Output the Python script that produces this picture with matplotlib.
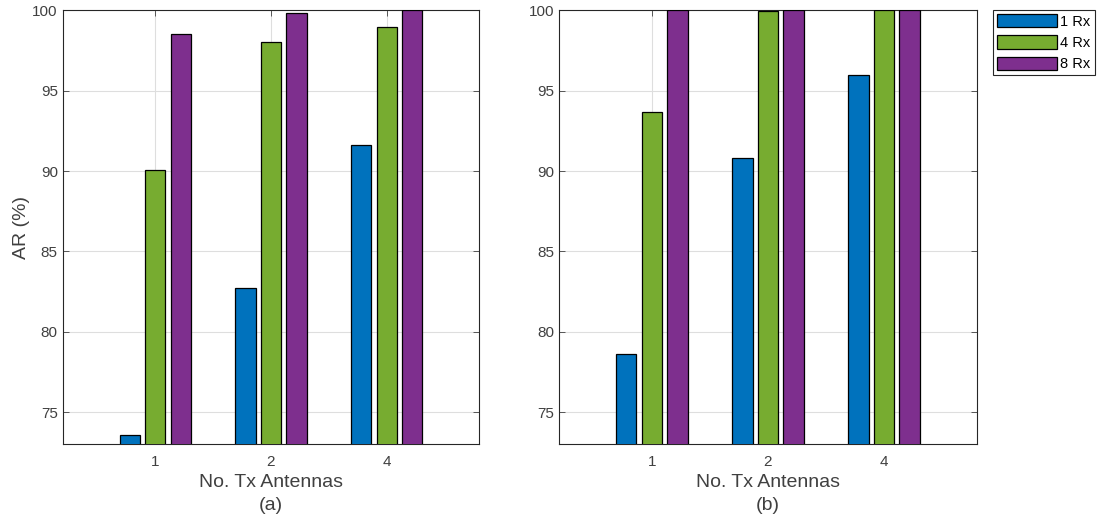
import numpy as np
import matplotlib.pyplot as plt

plt.rcParams['font.family'] = ['Liberation Sans', 'DejaVu Sans']

tx_labels = ['1', '2', '4']
rx_labels = ['1 Rx', '4 Rx', '8 Rx']
colors = ['#0072BD', '#77AC30', '#7E2F8E']

# AR (%) per Rx count, for Tx = 1, 2, 4
a_1rx = [73.55, 82.75, 91.6]
a_4rx = [90.05, 98.05, 98.98]
a_8rx = [98.55, 99.85, 100.0]

b_1rx = [78.6, 90.8, 96.0]
b_4rx = [93.65, 99.95, 100.0]
b_8rx = [100.0, 100.0, 100.0]

fig = plt.figure(figsize=(10.98, 5.23), dpi=100)
ax1 = fig.add_axes([0.0571, 0.1505, 0.3794, 0.8298])
ax2 = fig.add_axes([0.5091, 0.1505, 0.3806, 0.8298])

x = np.arange(1, 4)
width = 0.175
offsets = [-0.22, 0.0, 0.22]
edge = '#262626'

def draw(ax, series, sub):
    handles = []
    for vals, off, c, lab in zip(series, offsets, colors, rx_labels):
        h = ax.bar(x + off, vals, width, color=c, edgecolor='black',
                   linewidth=0.9, label=lab, zorder=3)
        handles.append(h)
    ax.set_xlim(0.2, 3.8)
    ax.set_ylim(73, 100)
    ax.set_xticks(x)
    ax.set_xticklabels(tx_labels)
    ax.set_yticks([75, 80, 85, 90, 95, 100])
    ax.grid(True, color='#dedede', linewidth=0.8, zorder=0)
    ax.set_axisbelow(True)
    ax.tick_params(direction='in', length=4, width=0.6, colors='#404040',
                   labelsize=11, top=True, right=True)
    ax.tick_params(axis='x', pad=8)
    ax.tick_params(axis='y', pad=3.5)
    for s in ax.spines.values():
        s.set_color(edge)
        s.set_linewidth(0.8)
    ax.set_xlabel('No. Tx Antennas\n' + sub, fontsize=14, color='#404040',
                  linespacing=1.5, labelpad=3)
    return handles

draw(ax1, [a_1rx, a_4rx, a_8rx], '(a)')
ax1.set_ylabel('AR (%)', fontsize=14, color='#404040', labelpad=2)
handles = draw(ax2, [b_1rx, b_4rx, b_8rx], '(b)')

leg = fig.legend(handles=handles, labels=rx_labels, loc='upper left',
                 bbox_to_anchor=(993 / 1098, 1 - 10 / 523), fontsize=10.5,
                 handlelength=4.1, handleheight=1.0, labelspacing=0.45,
                 handletextpad=0.2, borderpad=0.3, borderaxespad=0,
                 fancybox=False, framealpha=1)
leg.get_frame().set_edgecolor(edge)
leg.get_frame().set_linewidth(0.8)

fig.savefig('out.png', dpi=100)
